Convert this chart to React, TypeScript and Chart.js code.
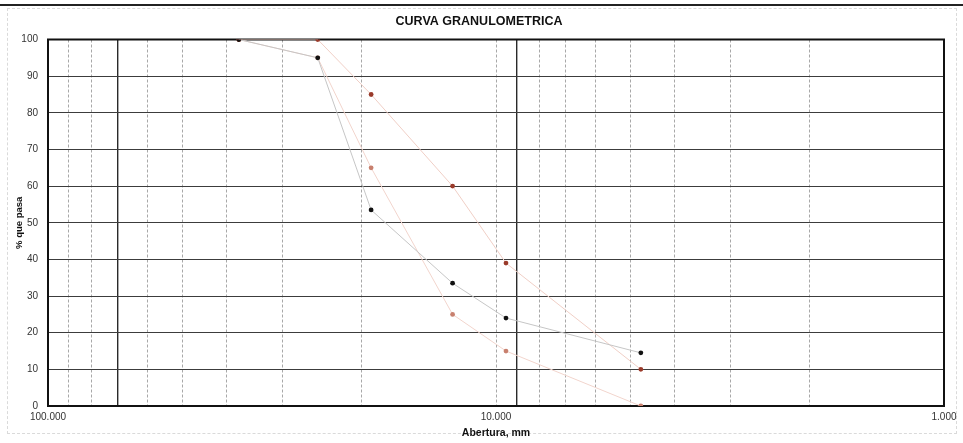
import React, { useEffect, useRef } from "react";
import { Chart, registerables } from "chart.js";

Chart.register(...registerables);

const sieveSizes = [37.5, 25, 19, 12.5, 9.5, 4.75];
const sampleValues = [100, 95, 53.5, 33.5, 24, 14.5];
const upperLimit = [100, 100, 85, 60, 39, 10];
const lowerLimit = [100, 95, 65, 25, 15, 0];
const xGridTicks = [100, 90, 80, 70, 60, 50, 40, 30, 20, 10, 9, 8, 7, 6, 5, 4, 3, 2, 1];
const xLabelTicks = [100, 10, 1];
const xLabelText = ["100.000", "10.000", "1.000"];
const darkVerticals = [70, 9];

const FONT = 'Arial, "Liberation Sans", sans-serif';

const toPoints = (ys: number[]) => sieveSizes.map((x, i) => ({ x, y: ys[i] }));

const framePlugin = {
  id: "frame",
  beforeDatasetsDraw(chart: any) {
    const { ctx, chartArea } = chart;
    const { left, top, right, bottom } = chartArea;
    ctx.save();
    ctx.strokeStyle = "#111";
    ctx.lineWidth = 2;
    ctx.strokeRect(left, top, right - left, bottom - top);
    ctx.restore();
  },
};

export default function App() {
  const ref = useRef<HTMLCanvasElement | null>(null);

  useEffect(() => {
    if (!ref.current) return;
    const isDark = (c: any) => c.tick && darkVerticals.includes(c.tick.value);
    const chart = new Chart(ref.current, {
      type: "scatter",
      data: {
        datasets: [
          {
            label: "Muestra",
            data: toPoints(sampleValues),
            showLine: true,
            borderColor: "#c6c6c6",
            borderWidth: 1,
            backgroundColor: "#111",
            pointBackgroundColor: "#111",
            pointBorderColor: "#111",
            pointRadius: 2.4,
            pointBorderWidth: 0,
          },
          {
            label: "Límite superior",
            data: toPoints(upperLimit),
            showLine: true,
            borderColor: "#f0cfc6",
            borderWidth: 1,
            backgroundColor: "#9a3a2a",
            pointBackgroundColor: "#9a3a2a",
            pointBorderColor: "#9a3a2a",
            pointRadius: 2.4,
            pointBorderWidth: 0,
          },
          {
            label: "Límite inferior",
            data: toPoints(lowerLimit),
            showLine: true,
            borderColor: "#f2d5cd",
            borderWidth: 1,
            backgroundColor: "#c8806e",
            pointBackgroundColor: "#c8806e",
            pointBorderColor: "#c8806e",
            pointRadius: 2.4,
            pointBorderWidth: 0,
          },
        ],
      },
      plugins: [framePlugin],
      options: {
        animation: false,
        responsive: false,
        devicePixelRatio: 1,
        layout: { padding: { left: 14, right: 19, top: 0, bottom: 3 } },
        plugins: {
          legend: { display: false },
          tooltip: { enabled: false },
          title: {
            display: true,
            text: "CURVA GRANULOMETRICA",
            color: "#111",
            font: { family: FONT, size: 12.5, weight: "bold" },
            padding: { top: 14.5, bottom: 10 },
          },
        },
        scales: {
          x: {
            type: "logarithmic",
            min: 1,
            max: 100,
            reverse: true,
            afterBuildTicks: (scale: any) => {
              scale.ticks = xGridTicks.map((v) => ({ value: v }));
            },
            afterFit: (scale: any) => {
              scale.height = 443 - 406 - 3;
            },
            ticks: {
              autoSkip: false,
              maxRotation: 0,
              minRotation: 0,
              padding: 5,
              color: "#333",
              font: { family: FONT, size: 10 },
              callback: (value: any) => {
                const i = xLabelTicks.indexOf(Number(value));
                return i >= 0 ? xLabelText[i] : "";
              },
            },
            grid: {
              drawTicks: false,
              color: (c: any) => (isDark(c) ? "#2a2a2a" : "#a8a8a8"),
              lineWidth: (c: any) => (isDark(c) ? 1.4 : 1),
            },
            border: {
              display: false,
              dash: (c: any) => (isDark(c) ? [] : [3, 2]),
            },
            title: {
              display: true,
              text: "Abertura, mm",
              color: "#111",
              font: { family: FONT, size: 10.5, weight: "bold" },
              padding: { top: 0, bottom: 1 },
            },
          },
          y: {
            type: "linear",
            min: 0,
            max: 100,
            afterFit: (scale: any) => {
              scale.width = 48 - 14;
            },
            ticks: {
              stepSize: 10,
              padding: 10,
              color: "#333",
              font: { family: FONT, size: 10 },
            },
            grid: {
              drawTicks: false,
              color: "#3c3c3c",
              lineWidth: 1,
            },
            border: { display: false },
            title: {
              display: true,
              text: "% que pasa",
              color: "#111",
              font: { family: FONT, size: 9.5, weight: "bold" },
              padding: { top: 0, bottom: 0 },
            },
          },
        },
      },
    } as any);
    return () => chart.destroy();
  }, []);

  return (
    <div style={{ position: "absolute", left: 0, top: 0, width: 963, height: 443, background: "#fff" }}>
      <div
        style={{
          position: "absolute",
          left: 0,
          top: 4,
          width: 963,
          height: 2,
          background: "#222",
          pointerEvents: "none",
          zIndex: 0,
        }}
      />
      <div
        style={{
          position: "absolute",
          left: 7,
          top: 8,
          width: 950,
          height: 426,
          border: "1px dashed #dadada",
          boxSizing: "border-box",
          pointerEvents: "none",
          zIndex: 0,
        }}
      />
      <canvas
        ref={ref}
        width={963}
        height={443}
        style={{ display: "block", position: "relative", zIndex: 1 }}
      />
    </div>
  );
}
